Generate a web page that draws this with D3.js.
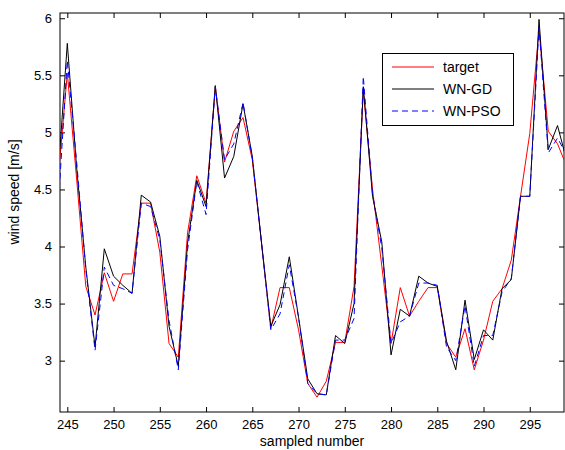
<!DOCTYPE html>
<html>
<head>
<meta charset="utf-8">
<script src="https://cdn.jsdelivr.net/npm/d3@7"></script>
<style>
	body { margin: 0; background: #fff; }
	svg { font-family: "Liberation Sans", Arial, sans-serif; }
</style>
</head>
<body>
<div id="chart"></div>
<script>
// sample index (x) and the three series
var samples = d3.range(244, 300);
var target = [4.58, 5.52, 4.60, 3.65, 3.40, 3.77, 3.52, 3.76, 3.76, 4.38,
	4.38, 3.95, 3.15, 3.03, 4.12, 4.62, 4.38, 5.40, 4.74, 5.01,
	5.13, 4.76, 4.03, 3.28, 3.64, 3.64, 3.27, 2.80, 2.68, 2.82,
	3.16, 3.16, 3.65, 5.37, 4.50, 3.83, 3.15, 3.64, 3.39, 3.52,
	3.64, 3.64, 3.15, 3.03, 3.28, 2.92, 3.18, 3.52, 3.63, 3.88,
	4.44, 4.99, 5.90, 5.01, 4.90, 4.70];
var wnGD = [4.62, 5.78, 4.70, 3.82, 3.12, 3.98, 3.74, 3.66, 3.59, 4.45,
	4.39, 4.09, 3.30, 2.95, 4.03, 4.58, 4.35, 5.41, 4.60, 4.79,
	5.25, 4.79, 4.03, 3.30, 3.49, 3.91, 3.38, 2.84, 2.71, 2.70,
	3.22, 3.15, 3.50, 5.40, 4.44, 4.04, 3.05, 3.45, 3.39, 3.74,
	3.68, 3.65, 3.17, 2.92, 3.53, 3.01, 3.27, 3.18, 3.63, 3.71,
	4.44, 4.44, 5.99, 4.85, 5.06, 4.75];
var wnPSO = [4.33, 5.63, 4.75, 3.80, 3.09, 3.82, 3.66, 3.63, 3.59, 4.38,
	4.35, 4.06, 3.35, 2.92, 3.97, 4.57, 4.28, 5.40, 4.76, 4.90,
	5.26, 4.78, 4.03, 3.27, 3.41, 3.84, 3.38, 2.80, 2.71, 2.70,
	3.18, 3.18, 3.37, 5.49, 4.46, 3.99, 3.15, 3.34, 3.39, 3.68,
	3.68, 3.66, 3.12, 3.00, 3.48, 2.95, 3.22, 3.22, 3.60, 3.72,
	4.44, 4.44, 5.92, 4.82, 4.95, 4.80];
var xTicks = [245, 250, 255, 260, 265, 270, 275, 280, 285, 290, 295];
var yTicks = [3, 3.5, 4, 4.5, 5, 5.5, 6];
var seriesNames = ['target', 'WN-GD', 'WN-PSO'];

var params = {};
params.width = 565;
params.height = 450;
params.margin = {left: 60, right: 0, top: 13, bottom: 38};

function drawChart(){
	var m = params.margin;
	var w = params.width - m.left - m.right - 1;
	var h = params.height - m.top - m.bottom;

	params.svg = d3.select('#chart').append('svg')
		.attr('width', params.width)
		.attr('height', params.height);

	var x = d3.scaleLinear().domain([244.21, 298.7]).range([0, w]);
	var y = d3.scaleLinear().domain([2.55, 6.046]).range([h, 0]);

	params.svg.append('defs').append('clipPath').attr('id', 'clip')
		.append('rect').attr('width', w).attr('height', h);

	var g = params.svg.append('g')
		.attr('transform', 'translate(' + m.left + ',' + m.top + ')');

	//axes: inner ticks, on all four sides like matlab
	var tl = 5;
	g.append('g').attr('class', 'axis')
		.attr('transform', 'translate(0,' + h + ')')
		.call(d3.axisBottom(x).tickValues(xTicks).tickSizeInner(-tl).tickSizeOuter(0).tickPadding(8));
	g.append('g').attr('class', 'axis')
		.call(d3.axisTop(x).tickValues(xTicks).tickSizeInner(-tl).tickSizeOuter(0).tickFormat(''));
	g.append('g').attr('class', 'axis')
		.call(d3.axisLeft(y).tickValues(yTicks).tickFormat(d3.format('~g')).tickSizeInner(-tl).tickSizeOuter(0).tickPadding(8));
	g.append('g').attr('class', 'axis')
		.attr('transform', 'translate(' + w + ',0)')
		.call(d3.axisRight(y).tickValues(yTicks).tickSizeInner(-tl).tickSizeOuter(0).tickFormat(''));

	g.selectAll('.axis path').remove();
	g.selectAll('.axis line').attr('stroke', '#000');
	g.selectAll('.axis text')
		.attr('fill', '#000')
		.style('font-size', '13px');

	g.append('rect')
		.attr('width', w).attr('height', h)
		.attr('fill', 'none').attr('stroke', '#000').attr('stroke-width', 1);

	//the lines
	var series = [
		{vals: target, color: '#ff0000', dash: null},
		{vals: wnGD, color: '#000000', dash: null},
		{vals: wnPSO, color: '#0000ff', dash: '6,4'}
	];
	var line = d3.line()
		.x(function(d, i){ return x(samples[i]); })
		.y(function(d){ return y(d); });
	var lg = g.append('g').attr('clip-path', 'url(#clip)');
	series.forEach(function(s){
		lg.append('path')
			.attr('d', line(s.vals))
			.attr('fill', 'none')
			.attr('stroke', s.color)
			.attr('stroke-width', 1)
			.attr('stroke-dasharray', s.dash);
	});

	//legend
	var leg = params.svg.append('g').attr('transform', 'translate(382,53)');
	leg.append('rect')
		.attr('x', 0.5).attr('y', 0.5)
		.attr('width', 131).attr('height', 72)
		.attr('fill', '#fff').attr('stroke', '#000');
	series.forEach(function(s, i){
		var yy = 14 + i * 22;
		leg.append('path')
			.attr('d', d3.line()([[10, yy], [52, yy]]))
			.style('stroke', s.color)
			.style('stroke-width', 1.2)
			.style('stroke-dasharray', s.dash ? s.dash : 'none')
			.style('fill', 'none');
		leg.append('text')
			.attr('x', 61).attr('y', yy + 5)
			.style('font-size', '14px')
			.text(seriesNames[i]);
	});

	//axis labels
	params.svg.append('text')
		.attr('x', m.left + w / 2).attr('y', 446)
		.attr('text-anchor', 'middle')
		.style('font-size', '14px')
		.text('sampled number');
	params.svg.append('text')
		.attr('transform', 'translate(19,192) rotate(-90)')
		.attr('text-anchor', 'middle')
		.style('font-size', '14px')
		.text('wind speed [m/s]');
}

drawChart();
</script>
</body>
</html>
